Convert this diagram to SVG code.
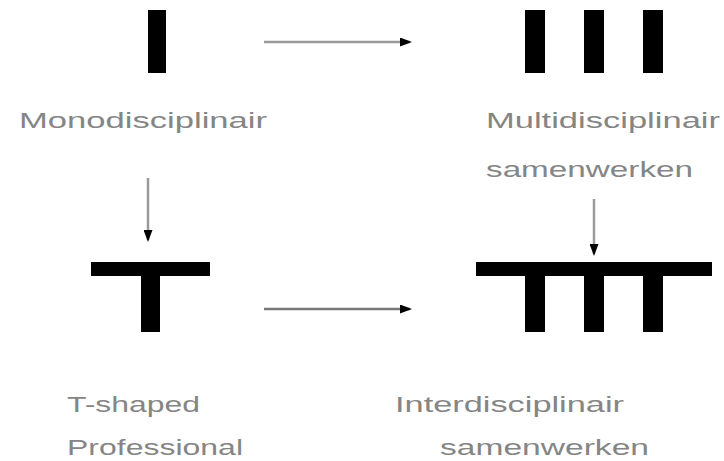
<svg xmlns="http://www.w3.org/2000/svg" width="724" height="461" viewBox="0 0 724 461">
<style>
.bar{fill:#000}
.lbl{font-family:"Liberation Sans",Arial,sans-serif;font-size:22px;fill:#858585}
.con{stroke:#9a9a9a;stroke-width:2.5;fill:none}
.con2{stroke:#777;stroke-width:2.5;fill:none}
</style>
<defs>
<marker id="ah" markerWidth="12" markerHeight="9" refX="10" refY="4.5" orient="auto" markerUnits="userSpaceOnUse">
<path d="M0,0 L12,4.5 L0,9 Z" fill="#000"/>
</marker>
</defs>
<rect width="724" height="461" fill="#fff"/>
<g id="connectors">
<line class="con" x1="264" y1="42" x2="410" y2="42" marker-end="url(#ah)"/>
<line class="con" x1="148" y1="178" x2="148" y2="240" marker-end="url(#ah)"/>
<line class="con" x1="594" y1="199" x2="594" y2="254" marker-end="url(#ah)"/>
<line class="con2" x1="264" y1="309" x2="410" y2="309" marker-end="url(#ah)"/>
</g>
<g id="mono">
<rect class="bar" x="148" y="10" width="18" height="63"/>
<text class="lbl" x="19" y="128" textLength="248" lengthAdjust="spacingAndGlyphs">Monodisciplinair</text>
</g>
<g id="multi">
<rect class="bar" x="525" y="10" width="20" height="63"/>
<rect class="bar" x="584" y="10" width="20" height="63"/>
<rect class="bar" x="643" y="10" width="20" height="63"/>
<text class="lbl" x="486" y="128" textLength="234" lengthAdjust="spacingAndGlyphs">Multidisciplinair</text>
<text class="lbl" x="486" y="177" textLength="207" lengthAdjust="spacingAndGlyphs">samenwerken</text>
</g>
<g id="tshaped">
<rect class="bar" x="91" y="262" width="119" height="14"/>
<rect class="bar" x="141" y="262" width="19" height="70"/>
<text class="lbl" x="67" y="412" textLength="133" lengthAdjust="spacingAndGlyphs">T-shaped</text>
<text class="lbl" x="67" y="455" textLength="176" lengthAdjust="spacingAndGlyphs">Professional</text>
</g>
<g id="inter">
<rect class="bar" x="476" y="262" width="236" height="14"/>
<rect class="bar" x="525" y="262" width="20" height="70"/>
<rect class="bar" x="584" y="262" width="20" height="70"/>
<rect class="bar" x="643" y="262" width="20" height="70"/>
<text class="lbl" x="395" y="412" textLength="229" lengthAdjust="spacingAndGlyphs">Interdisciplinair</text>
<text class="lbl" x="440" y="455" textLength="209" lengthAdjust="spacingAndGlyphs">samenwerken</text>
</g>
</svg>
